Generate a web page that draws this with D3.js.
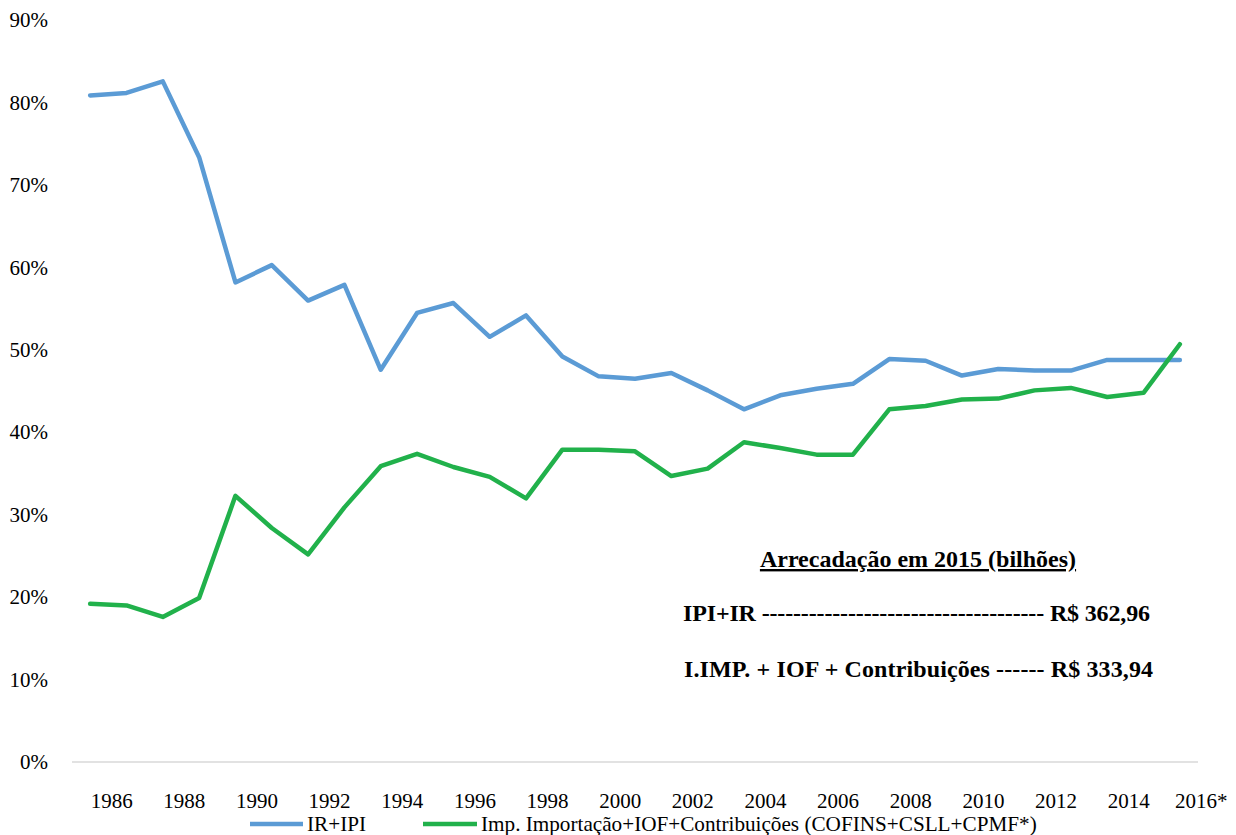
<!DOCTYPE html>
<html>
<head>
<meta charset="utf-8">
<script src="https://cdn.jsdelivr.net/npm/d3@7"></script>
<style>
  html, body { margin: 0; padding: 0; background: #fff; }
  svg { display: block; }
  text { font-family: "Liberation Serif", "Times New Roman", serif; fill: #000; }
</style>
</head>
<body>
<svg id="chart" width="1236" height="835"></svg>
<script>
const years = d3.range(1986, 2017);
const tickLabels = ["1986","1988","1990","1992","1994","1996","1998","2000","2002","2004","2006","2008","2010","2012","2014","2016*"];
const yTicks = [0, 10, 20, 30, 40, 50, 60, 70, 80, 90];

const irIpi = [80.9, 81.2, 82.6, 73.4, 58.2, 60.3, 56.0, 57.9, 47.6, 54.5,
               55.7, 51.6, 54.2, 49.2, 46.8, 46.5, 47.2, 45.1, 42.8, 44.5,
               45.3, 45.9, 48.9, 48.7, 46.9, 47.7, 47.5, 47.5, 48.8, 48.8, 48.8];
const impContrib = [19.2, 19.0, 17.6, 19.9, 32.3, 28.4, 25.2, 30.9, 35.9, 37.4,
                    35.8, 34.6, 32.0, 37.9, 37.9, 37.7, 34.7, 35.6, 38.8, 38.1,
                    37.3, 37.3, 42.8, 43.2, 44.0, 44.1, 45.1, 45.4, 44.3, 44.8, 50.7];

const seriesNames = ["IR+IPI", "Imp. Importação+IOF+Contribuições (COFINS+CSLL+CPMF*)"];
const seriesColors = ["#5B9BD5", "#21B14B"];

const annTitle = "Arrecadação em 2015 (bilhões)";
const annLines = ["IPI+IR ------------------------------------ R$ 362,96",
                  "I.IMP. +  IOF + Contribuições ------ R$ 333,94"];

const svg = d3.select("#chart");
const plotLeft = 72, plotRight = 1198, plotTop = 20.4, plotBottom = 762;

const x = d3.scaleBand().domain(years).range([plotLeft, plotRight]);
const y = d3.scaleLinear().domain([0, 90]).range([plotBottom, plotTop]);
const cx = d => x(d) + x.bandwidth() / 2;

// baseline axis line
svg.append("line")
  .attr("x1", plotLeft).attr("x2", plotRight)
  .attr("y1", y(0)).attr("y2", y(0))
  .attr("stroke", "#D9D9D9").attr("stroke-width", 1.5);

// Y tick labels
svg.append("g").selectAll("text").data(yTicks).join("text")
  .attr("x", 48).attr("y", d => y(d) + 7)
  .attr("text-anchor", "end")
  .attr("font-size", 21)
  .text(d => d + "%");

// X tick labels (every other year)
const evenYears = years.filter((d, i) => i % 2 === 0);
svg.append("g").selectAll("text").data(evenYears).join("text")
  .attr("x", d => cx(d) + 21.5).attr("y", 808)
  .attr("text-anchor", "middle")
  .attr("font-size", 21)
  .text((d, i) => tickLabels[i]);

// lines
const line = d3.line().x((d, i) => cx(years[i])).y(d => y(d));
[irIpi, impContrib].forEach((s, k) => {
  svg.append("path")
    .datum(s)
    .attr("fill", "none")
    .attr("stroke", seriesColors[k])
    .attr("stroke-width", 4.5)
    .attr("stroke-linejoin", "round")
    .attr("stroke-linecap", "round")
    .attr("d", line);
});

// legend
const legendItems = [{x1: 250, x2: 303, tx: 307}, {x1: 423, x2: 477, tx: 481}];
legendItems.forEach((L, k) => {
  svg.append("line")
    .attr("x1", L.x1).attr("x2", L.x2).attr("y1", 824).attr("y2", 824)
    .attr("stroke", seriesColors[k]).attr("stroke-width", 4.5);
  svg.append("text")
    .attr("x", L.tx).attr("y", 831)
    .attr("font-size", 21.2)
    .text(seriesNames[k]);
});

// annotation
svg.append("text")
  .attr("x", 918).attr("y", 567)
  .attr("text-anchor", "middle")
  .attr("font-size", 24).attr("font-weight", "bold")
  .attr("text-decoration", "underline")
  .text(annTitle);

svg.append("text")
  .attr("x", 683).attr("y", 621)
  .attr("font-size", 24).attr("font-weight", "bold")
  .attr("textLength", 467).attr("lengthAdjust", "spacing")
  .text(annLines[0]);

svg.append("text")
  .attr("x", 684).attr("y", 677)
  .attr("font-size", 24).attr("font-weight", "bold")
  .attr("textLength", 469).attr("lengthAdjust", "spacing")
  .text(annLines[1]);
</script>
</body>
</html>
